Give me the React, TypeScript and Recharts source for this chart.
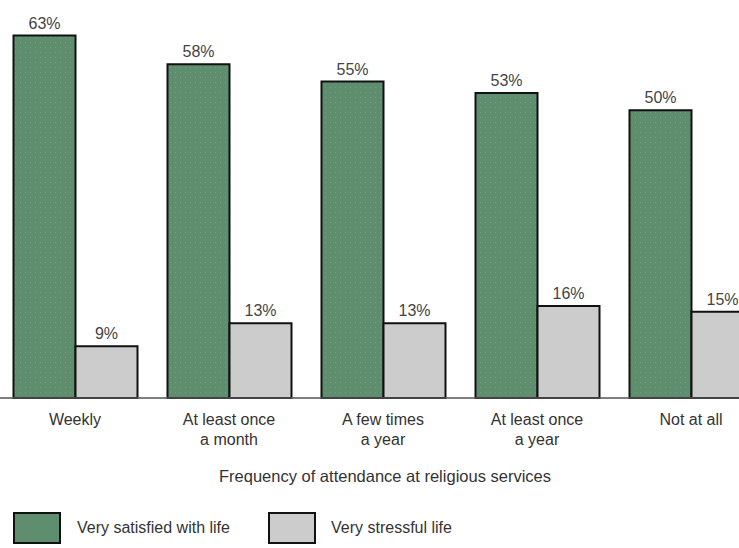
import React from 'react';
import { BarChart, Bar, XAxis, YAxis, LabelList } from 'recharts';

const categories = ['Weekly', 'At least once\na month', 'A few times\na year', 'At least once\na year', 'Not at all'];
const satisfied = [63, 58, 55, 53, 50];
const stressful = [9, 13, 13, 16, 15];

const data = categories.map((name, i) => ({
  name,
  satisfied: satisfied[i],
  stressful: stressful[i],
}));

const FONT = '"Liberation Sans Narrow", "Liberation Sans", Arial, sans-serif';
const GREEN = '#5e8e6d';
const GREY = '#cccccc';

const CatTick = (props: any) => {
  const { x, y, payload } = props;
  const lines = String(payload.value).split('\n');
  return (
    <text x={x} y={y} textAnchor="middle" fill="#333" fontFamily={FONT} fontSize={16}>
      {lines.map((l, i) => (
        <tspan key={i} x={x} dy={i === 0 ? 19 : 20}>
          {l}
        </tspan>
      ))}
    </text>
  );
};

export default function App() {
  return (
    <div style={{ position: 'absolute', left: 0, top: 0, width: 739, height: 548, overflow: 'hidden', background: '#fff' }}>
      <div style={{ position: 'absolute', left: -2, top: 0 }}>
        <BarChart
          width={770}
          height={548}
          data={data}
          margin={{ top: 24, right: 0, left: 0, bottom: 90 }}
          barGap={0}
          barCategoryGap={15.5}
        >
          <defs>
            <pattern id="dots" width="5" height="5" patternUnits="userSpaceOnUse">
              <rect width="5" height="5" fill={GREEN} />
              <rect x="2" y="2" width="1" height="1" fill="#72a07a" />
            </pattern>
          </defs>
          <XAxis
            dataKey="name"
            interval={0}
            tickLine={false}
            axisLine={{ stroke: '#555', strokeWidth: 1.5 }}
            tick={<CatTick />}
            height={60}
          />
          <YAxis hide domain={[0, 65]} />
          <Bar dataKey="satisfied" fill="url(#dots)" stroke="#111" strokeWidth={2} isAnimationActive={false}>
            <LabelList dataKey="satisfied" position="top" formatter={(v: any) => `${v}%`} fill="#444" fontSize={16} fontFamily={FONT} offset={7} />
          </Bar>
          <Bar dataKey="stressful" fill={GREY} stroke="#111" strokeWidth={2} isAnimationActive={false}>
            <LabelList dataKey="stressful" position="top" formatter={(v: any) => `${v}%`} fill="#444" fontSize={16} fontFamily={FONT} offset={7} />
          </Bar>
        </BarChart>
      </div>
      <div style={{ position: 'absolute', left: 0, width: 770, top: 467, textAlign: 'center', fontFamily: FONT, fontSize: 16.5, color: '#333' }}>
        Frequency of attendance at religious services
      </div>
      <div style={{ position: 'absolute', left: 13, top: 512, display: 'flex', alignItems: 'center', fontFamily: FONT, fontSize: 16, color: '#333' }}>
        <span style={{ width: 44, height: 28, background: GREEN, border: '2px solid #111', display: 'inline-block' }} />
        <span style={{ marginLeft: 16, width: 191 }}>Very satisfied with life</span>
        <span style={{ width: 44, height: 28, background: GREY, border: '2px solid #111', display: 'inline-block' }} />
        <span style={{ marginLeft: 15 }}>Very stressful life</span>
      </div>
    </div>
  );
}
